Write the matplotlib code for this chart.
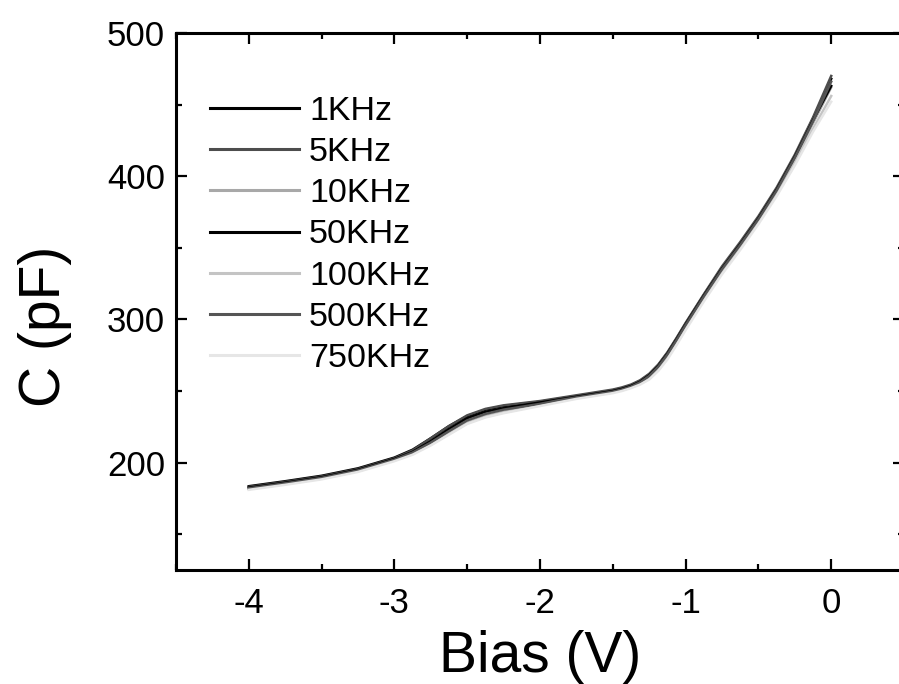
import matplotlib
matplotlib.use("Agg")
import matplotlib.pyplot as plt
from matplotlib.ticker import MultipleLocator

plt.rcParams['font.family'] = ['Liberation Sans', 'DejaVu Sans']
plt.rcParams['axes.unicode_minus'] = False

bias = [-4.0, -3.75, -3.5, -3.25, -3.0, -2.875, -2.75, -2.625, -2.5, -2.375, -2.25, -2.125,
        -2.0, -1.875, -1.75, -1.625, -1.5, -1.4375, -1.375, -1.3125, -1.25, -1.1875,
        -1.125, -1.0625, -1.0, -0.9375, -0.875, -0.75, -0.625, -0.5, -0.375, -0.25,
        -0.125, 0.0]

c_1k = [183.5, 187, 190.8, 196, 203.5, 209, 217, 225.5, 232.5, 237, 239.5, 241, 242.5,
        244.5, 246.5, 248.5, 250.5, 252, 254, 257, 261.5, 268, 276.5, 286.5, 297, 307,
        317, 336, 353, 371, 391, 414, 440, 468]
c_5k = [183, 186.5, 190.3, 195.5, 203, 208.5, 217, 225.5, 233, 237.5, 240, 241.5, 243,
        245, 247, 249, 251, 252.5, 254.5, 257.5, 262, 268.5, 277, 287, 297.5, 307.5,
        317.5, 337, 354, 372, 392, 415, 441, 470]
c_10k = [182, 185.5, 189.3, 194.5, 202, 206.5, 213, 220.5, 228, 232.5, 235.5, 238, 240.5,
         243, 245.5, 247.5, 249.5, 251, 253, 256, 260, 266.5, 275, 285, 295.5, 305.5,
         315.5, 334.5, 351.5, 369.5, 389.5, 412, 437, 462]
c_50k = [182.5, 186, 189.8, 195, 202.5, 207.5, 215, 223.5, 231, 235.5, 238, 240, 242,
         244, 246, 248, 250, 251.5, 253.5, 256.5, 261, 267.5, 276, 286, 296.5, 306.5,
         316.5, 335.5, 352.5, 370.5, 390.5, 413.5, 439, 463]
c_100k = [181.5, 185, 188.8, 194, 201.5, 206, 212.5, 220, 227.5, 232, 235, 237.5, 240,
          242.5, 245, 247, 249, 250.5, 252.5, 255, 259, 265, 273.5, 283.5, 294, 304,
          314, 333, 350, 368, 387.5, 409.5, 433, 456]
c_500k = [182, 185.5, 189.3, 194.5, 202, 207, 214, 222, 229.5, 234, 237, 239, 241,
          243.5, 245.5, 247.5, 249.5, 251, 253, 256, 260.5, 267, 275.5, 285.5, 296, 306,
          316, 335, 352, 370, 390, 413, 438.5, 466]
c_750k = [181, 184.5, 188.3, 193.5, 201, 205.5, 212, 219.5, 227, 231.5, 234.5, 237, 239.5,
          242, 244.5, 246.5, 248.5, 250, 252, 254.5, 258, 264, 272, 282, 292.5, 302.5,
          312.5, 331.5, 348.5, 366.5, 386, 407.5, 431, 452]

labels = ['1KHz', '5KHz', '10KHz', '50KHz', '100KHz', '500KHz', '750KHz']
series = [c_1k, c_5k, c_10k, c_50k, c_100k, c_500k, c_750k]
colors = ['#000000', '#4d4d4d', '#a8a8a8', '#000000', '#c4c4c4', '#555555', '#e6e6e6']

fig = plt.figure(figsize=(8.99, 6.84), dpi=100)
ax = fig.add_axes([176 / 899, 114 / 684, 728 / 899, 537 / 684])

for ys, lab, col in zip(series, labels, colors):
    ax.plot(bias, ys, color=col, lw=1.8, label=lab)

ax.set_xlim(-4.5, 0.5)
ax.set_ylim(125, 500)
ax.xaxis.set_major_locator(MultipleLocator(1))
ax.xaxis.set_minor_locator(MultipleLocator(0.5))
ax.yaxis.set_major_locator(MultipleLocator(100))
ax.yaxis.set_minor_locator(MultipleLocator(50))
ax.set_yticks([200, 300, 400, 500])
ax.set_xticks([-4, -3, -2, -1, 0])

ax.tick_params(which='both', direction='in', top=True, right=True, width=1.6)
ax.tick_params(which='major', length=8, labelsize=25)
ax.tick_params(axis='x', which='major', pad=12)
ax.tick_params(axis='y', which='major', pad=8)
ax.tick_params(which='minor', length=4.5)
for s in ax.spines.values():
    s.set_linewidth(2.2)

ax.set_xlabel('Bias (V)', fontsize=41)
ax.set_ylabel('C (pF)', fontsize=41)
ax.xaxis.set_label_coords(0.5, -0.112)
ax.yaxis.set_label_coords(-0.143, 0.454)

leg = ax.legend(loc='upper left', bbox_to_anchor=(0.047, 0.883), frameon=False,
                fontsize=24.5, handlelength=2.6, handletextpad=0.3, labelspacing=0.3,
                borderpad=0, borderaxespad=0)
for h in leg.get_lines():
    h.set_linewidth(2.2)

fig.savefig('out.png', dpi=100)
